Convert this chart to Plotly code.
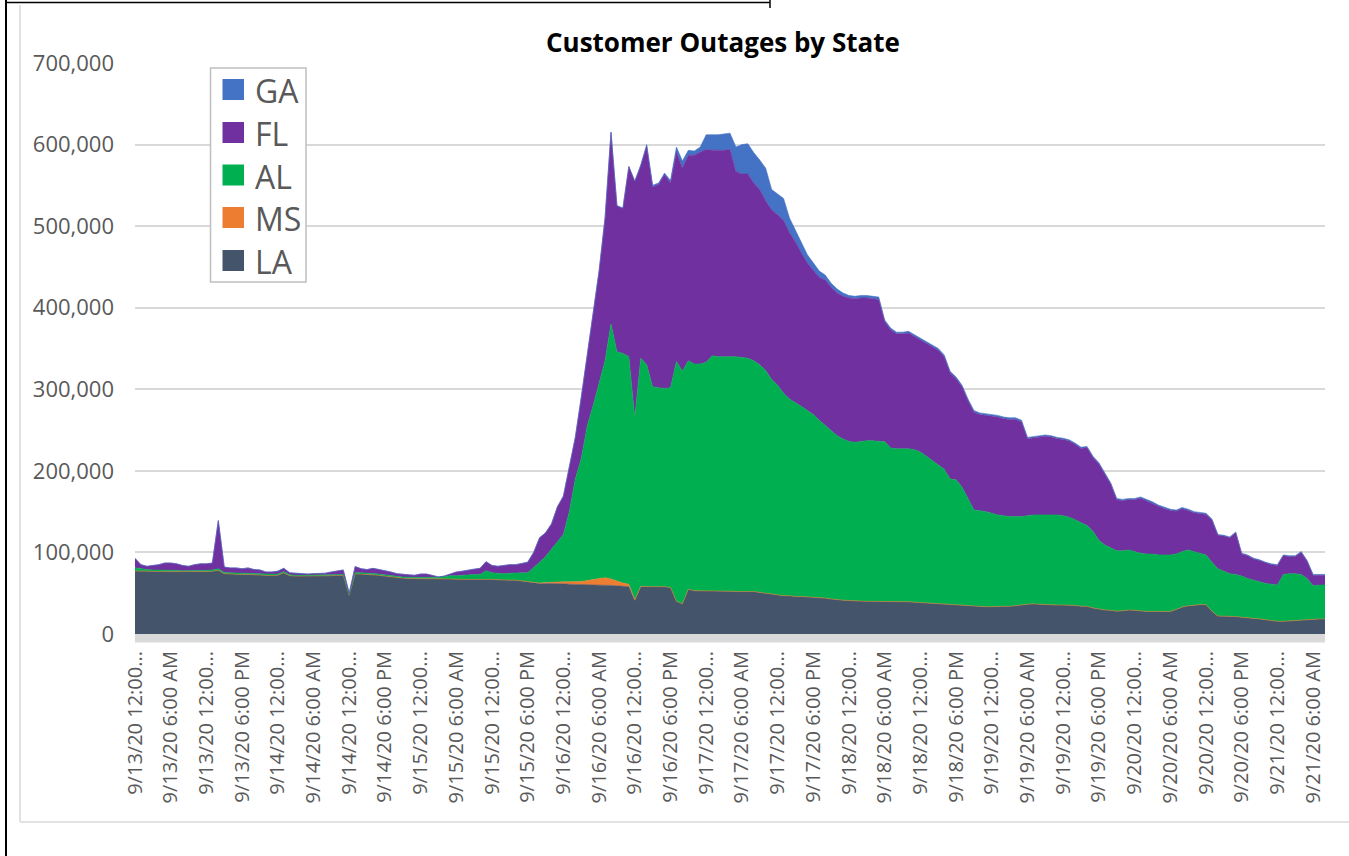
import datetime as dt
import plotly.graph_objects as go

# ---------------- data (thousands of customers, hourly from 9/13/20 00:00) ----------------
START = dt.datetime(2020, 9, 13, 0, 0)
N_POINTS = 201

LA = [
    77.3, 77, 77, 77, 77, 76.5, 76.5, 76.5, 76, 76,
    76, 76.5, 76.5, 77, 78, 74, 73.5, 73.5, 73, 73,
    72.5, 72.5, 72, 72, 72, 75, 71.5, 71, 71, 71,
    71, 71, 71, 71.5, 72, 72, 47.5, 73.6, 73.5, 73,
    73, 72, 71, 70, 69, 68.5, 68, 68, 68, 68,
    68, 67.5, 67.5, 67.5, 67, 67, 67, 67, 67, 67.5,
    67, 66.5, 66, 66, 66, 65, 64, 63, 62, 62,
    62, 62, 61.5, 61, 61, 61, 60.5, 60, 60, 60,
    59.5, 59, 58.5, 58, 41, 58, 58, 58, 58, 58,
    57, 40, 37, 55, 53, 53, 53, 53, 52.5, 52.5,
    52.5, 52, 52, 52, 52, 51, 50, 49, 48, 47,
    47, 46, 46, 45.5, 45, 45, 44, 43, 42, 41.5,
    41, 40.5, 40, 40, 40, 40, 40, 40, 40, 40,
    39.5, 39, 38.5, 38, 37.5, 37, 36.5, 36, 35.5, 35.5,
    34.5, 34, 33.5, 33.5, 33.5, 34, 34, 34, 34.5, 35.5,
    36.5, 37, 36.5, 36, 35.5, 35.5, 35.5, 35.5, 35, 34,
    34, 32, 30.5, 29.5, 29, 28, 28.5, 29.5, 29, 28,
    27.7, 27.7, 27.7, 27.7, 27.7, 30, 33, 34.5, 35.5, 36,
    36, 28, 22, 22, 22, 21.5, 20.5, 20, 19.3, 18.5,
    17.5, 16.5, 15.5, 15.5, 16, 16.5, 17.5, 18, 18, 18.5, 18.5,
]

MS = [0] * 68 + [
    0.5, 1, 1.5, 2, 2.5, 3, 3, 3.5, 5, 7, 8, 9, 8, 6, 4, 3, 1, 0.5,
] + [0] * 115

AL = [
    4, 3, 2, 1.5, 1.5, 1.5, 1.5, 1.5, 1.5, 1.5,
    1.5, 1.5, 1.5, 1.5, 2, 1.5, 1.5, 1.5, 1.5, 1.5,
    1.5, 1.5, 1.5, 1.5, 1.5, 1.5, 1, 1, 1, 1,
    1, 1, 1, 1, 1, 1, 1, 1.5, 1.5, 1.5,
    1.5, 1.5, 1.5, 1.5, 1.5, 1.5, 1.5, 1.5, 1.5, 2,
    2, 2, 3, 4, 4.5, 5, 6, 6, 6, 10,
    8, 8, 8, 8.5, 9, 10, 11, 18, 25.5, 32,
    40.5, 49, 58, 86, 126, 150.5, 189.5, 213, 240, 266,
    312.5, 281, 281.5, 279, 223, 279.5, 272, 245, 244, 243,
    245, 294, 285, 280, 278, 278, 280, 288, 287.5, 287.5,
    287.5, 288, 287, 286, 283, 279, 273, 263, 257, 248,
    241, 238, 233, 228.5, 224, 217, 212, 207, 201, 197.5,
    195, 194.5, 196, 197, 197, 196, 196, 188, 187, 187,
    187.5, 187, 184.5, 180, 175.5, 170, 165.5, 154, 153.5, 144.5,
    130.5, 118, 117.5, 116.5, 114.5, 112, 111, 110, 109.5, 108.5,
    108.5, 109, 109.5, 110, 110.5, 110.5, 109.5, 107.5, 105, 103,
    99, 94, 84.5, 79.5, 76, 74, 73.5, 73.5, 72, 71,
    70.3, 70.3, 69.3, 69.3, 69.3, 68, 68, 68.5, 65.5, 63,
    61, 60, 58, 55, 52, 51.5, 50.5, 48, 46.7, 45.5,
    44.5, 44.5, 44.5, 57.5, 58, 57.5, 55.5, 50, 41, 41.5, 41.5,
]

FL = [
    11.5, 5, 4, 5.5, 6.5, 9, 9, 8, 6.5, 5.5,
    7.5, 8, 8, 8.5, 59, 6.5, 6, 6, 5.5, 6.5,
    5, 4.5, 2.5, 2.5, 3.5, 4, 2.5, 2.5, 2, 1.5,
    2, 2, 2.5, 3.5, 4, 5.5, 1.5, 7.5, 5, 4.5,
    6, 5.5, 5.5, 4.5, 3.5, 3, 3, 2.5, 4, 3.5,
    2, 0.5, 0.5, 2.5, 4.5, 5, 5.5, 6.5, 7.5, 11.2,
    9, 8.5, 10, 10.5, 10, 11.6, 13, 19, 30, 29,
    31, 43, 47, 55, 51, 75, 85, 110, 137, 175,
    235, 179, 178, 233, 290, 236, 268, 245, 249, 262,
    251, 257, 249, 252, 256, 260, 261, 252, 253, 253,
    254, 227, 225, 226, 218, 215, 208, 208, 209, 212,
    204, 197, 188, 181, 177, 175, 178, 175, 175, 175,
    176, 176, 176, 175, 174, 174, 147, 145, 141, 141,
    142, 139, 138, 138, 140, 141, 138, 130, 124, 123,
    121, 120, 118, 118, 119, 120, 119, 119, 119, 116,
    94.5, 94.5, 95.5, 96.5, 95.5, 93.5, 93.5, 93.5, 92.5, 90.5,
    95.5, 90.5, 93.5, 87.5, 78.5, 62.5, 61.5, 61.5, 63.5, 67.5,
    65.5, 62.5, 59.5, 56.5, 54.5, 52.5, 52.5, 48.5, 47.5, 48.5,
    49.5, 51.5, 41, 43, 44, 51, 27, 28, 26, 26,
    25, 24, 24, 23, 21, 21, 27, 21, 13, 12, 12,
]

GA = [0] * 85 + [
    1, 2, 2, 2, 2,
    3, 6, 9, 6, 5, 6, 18, 19, 19, 20,
    20, 30, 36, 37, 37, 36, 40, 25, 26, 27,
    18, 14, 13, 10, 9, 8, 6, 5, 5, 4,
    3, 3, 3, 3, 3, 3, 2, 2, 2, 2,
    2, 2, 2, 2, 2, 2, 2, 2, 2, 2,
    2, 2, 2, 2, 2, 2, 2, 2, 2, 2,
    1.5, 1.5, 1.5, 1.5, 1.5, 1.5, 1.5, 1.5, 1.5, 1.5,
    1.5, 1.5, 1.5, 1.5, 1.5, 1.5, 1.5, 1.5, 1.5, 1.5,
    1.5, 1.5, 1.5, 1.5, 1.5, 1.5, 1.5, 1.5, 1.5, 1.5,
    1.5, 1.5, 1, 1, 1, 1, 1, 1, 1, 1,
    1, 1, 1, 1, 1, 1, 1, 1, 1, 1, 1,
]

SERIES_NAMES = ["LA", "MS", "AL", "FL", "GA"]          # stacking order, bottom -> top
LEGEND_ORDER = ["GA", "FL", "AL", "MS", "LA"]
COLORS = {"GA": "#4472C4", "FL": "#7030A0", "AL": "#00B050", "MS": "#ED7D31", "LA": "#44546A"}

TICK_LABELS = [
    "9/13/20 12:00...", "9/13/20 6:00 AM", "9/13/20 12:00...", "9/13/20 6:00 PM",
    "9/14/20 12:00...", "9/14/20 6:00 AM", "9/14/20 12:00...", "9/14/20 6:00 PM",
    "9/15/20 12:00...", "9/15/20 6:00 AM", "9/15/20 12:00...", "9/15/20 6:00 PM",
    "9/16/20 12:00...", "9/16/20 6:00 AM", "9/16/20 12:00...", "9/16/20 6:00 PM",
    "9/17/20 12:00...", "9/17/20 6:00 AM", "9/17/20 12:00...", "9/17/20 6:00 PM",
    "9/18/20 12:00...", "9/18/20 6:00 AM", "9/18/20 12:00...", "9/18/20 6:00 PM",
    "9/19/20 12:00...", "9/19/20 6:00 AM", "9/19/20 12:00...", "9/19/20 6:00 PM",
    "9/20/20 12:00...", "9/20/20 6:00 AM", "9/20/20 12:00...", "9/20/20 6:00 PM",
    "9/21/20 12:00...", "9/21/20 6:00 AM",
]
TICK_STEP_HOURS = 6

Y_TICKS = [0, 100000, 200000, 300000, 400000, 500000, 600000, 700000]
TITLE = "Customer Outages by State"

data = {"LA": LA, "MS": MS, "AL": AL, "FL": FL, "GA": GA}
for k, v in data.items():
    assert len(v) == N_POINTS, (k, len(v))

times = [START + dt.timedelta(hours=h) for h in range(N_POINTS)]
tick_vals = [START + dt.timedelta(hours=TICK_STEP_HOURS * i) for i in range(len(TICK_LABELS))]

# ---------------- layout geometry (pixels) ----------------
W, H = 1349, 856
L, R, T, B = 135, 24, 63, 222
PW, PH = W - L - R, H - T - B
Y0 = H - B  # pixel row of value 0


def px(x):
    return (x - L) / PW


def py(y):
    return (Y0 - y) / PH


TEXT = "#595959"
FONT = "Open Sans"

fig = go.Figure()
for name in SERIES_NAMES:
    fig.add_trace(go.Scatter(
        x=times, y=[v * 1000 for v in data[name]], name=name,
        mode="lines", stackgroup="one",
        line=dict(width=0.6, color=COLORS[name]),
        fillcolor=COLORS[name], showlegend=False,
    ))

shapes = []
# grey band under the plot
shapes.append(dict(type="rect", xref="paper", yref="paper", x0=0, x1=1,
                   y0=py(642.5), y1=py(634), fillcolor="#D9D9D9", line=dict(width=0), layer="above"))
# chart border (light grey) and outer black frame
shapes.append(dict(type="line", xref="paper", yref="paper", x0=px(20), x1=px(20), y0=py(5), y1=py(822),
                   line=dict(color="#D9D9D9", width=1.5)))
shapes.append(dict(type="line", xref="paper", yref="paper", x0=px(20), x1=px(1349), y0=py(822), y1=py(822),
                   line=dict(color="#D9D9D9", width=1.5)))
shapes.append(dict(type="line", xref="paper", yref="paper", x0=px(6), x1=px(6), y0=py(0), y1=py(856),
                   line=dict(color="black", width=2)))
shapes.append(dict(type="line", xref="paper", yref="paper", x0=px(5), x1=px(770), y0=py(2.5), y1=py(2.5),
                   line=dict(color="black", width=1.5)))
shapes.append(dict(type="line", xref="paper", yref="paper", x0=px(770), x1=px(770), y0=py(0), y1=py(8),
                   line=dict(color="black", width=1.5)))

# manual legend
shapes.append(dict(type="rect", xref="paper", yref="paper", x0=px(210.5), x1=px(306), y0=py(68), y1=py(282),
                   fillcolor="white", line=dict(color="#BFBFBF", width=1.5)))
annotations = []
legend_y = [89.5, 132.5, 175, 217.5, 260.5]
for name, cy in zip(LEGEND_ORDER, legend_y):
    shapes.append(dict(type="rect", xref="paper", yref="paper", x0=px(222.5), x1=px(244),
                       y0=py(cy + 10.5), y1=py(cy - 10.5), fillcolor=COLORS[name], line=dict(width=0)))
    annotations.append(dict(xref="paper", yref="paper", x=px(253), y=py(cy + 1), text=name,
                            showarrow=False, xanchor="left", yanchor="middle",
                            font=dict(family=FONT, size=32, color=TEXT)))

annotations.append(dict(xref="paper", yref="paper", x=px(723), y=py(42), text="<b>" + TITLE + "</b>",
                        showarrow=False, xanchor="center", yanchor="middle",
                        font=dict(family=FONT, size=26, color="black")))

fig.update_layout(
    width=W, height=H,
    margin=dict(l=L, r=R, t=T, b=B, pad=0),
    paper_bgcolor="white", plot_bgcolor="white",
    shapes=shapes, annotations=annotations,
    showlegend=False, hovermode=False,
    xaxis=dict(
        type="date", range=[times[0], times[-1]],
        tickmode="array", tickvals=tick_vals, ticktext=TICK_LABELS,
        tickangle=-90, tickfont=dict(family=FONT, size=20, color=TEXT),
        showgrid=False, zeroline=False, showline=False, ticks="",
        ticklabelstandoff=12,
    ),
    yaxis=dict(
        range=[0, 700000], tickmode="array", tickvals=Y_TICKS,
        ticktext=[f"{v:,}" for v in Y_TICKS],
        tickfont=dict(family=FONT, size=22, color=TEXT),
        showgrid=True, gridcolor="#D9D9D9", gridwidth=1.5,
        zeroline=False, showline=False, ticks="", ticklabelstandoff=20,
    ),
)

fig.write_html("out.html", config={"displayModeBar": False},
               post_script="document.body.style.margin='0';")
